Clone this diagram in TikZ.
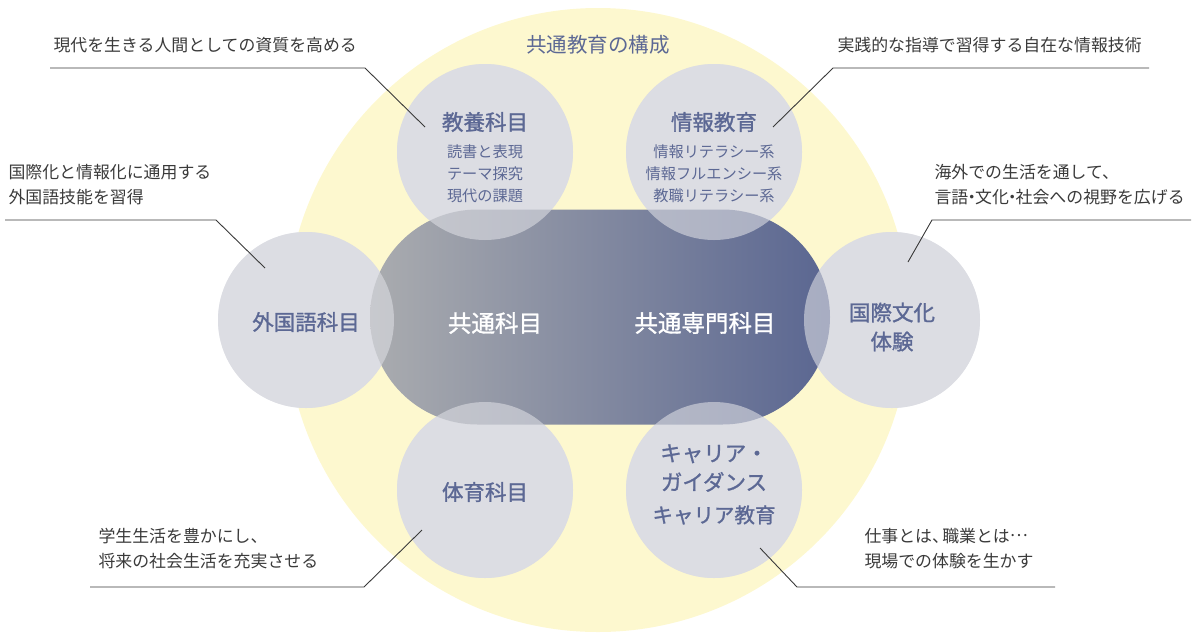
\documentclass[tikz,border=0pt]{standalone}
\usepackage{fontspec}
\setmainfont{Noto Sans CJK JP}
\newfontfamily\midweight[FakeBold=1.2]{Noto Sans CJK JP}
\usetikzlibrary{positioning}
\definecolor{pale}{HTML}{FDF8CF}
\definecolor{discgray}{HTML}{DCDDE3}
\definecolor{ink}{HTML}{5C6894}
\definecolor{lead}{HTML}{3A3A3A}
\definecolor{pillL}{HTML}{AAACAF}
\definecolor{pillR}{HTML}{5A6691}

\begin{document}
\begin{tikzpicture}[x=1pt,y=-1pt,
  disc/.style={circle,fill=discgray,minimum size=176pt,inner sep=0pt},
  head/.style={text=ink,align=center,font=\fontsize{21.5}{29}\midweight},
  sub/.style={text=ink,align=center,font=\fontsize{15.2}{22}\selectfont},
  note/.style={text=lead,align=left,font=\fontsize{16.9}{25}\selectfont},
  leader/.style={draw=lead,line width=0.9pt}]
  \useasboundingbox (0,0) rectangle (1200,641);
  % outer yellow disc
  \fill[pale] (598,320) circle[radius=312];
  \node[text=ink,font=\fontsize{20.5}{24}\selectfont] (title) at (598,45) {共通教育の構成};
  % the six subject discs
  \node[disc] (kyoyo) at (485,152) {};
  \node[disc] (joho) at (714,152) {};
  \node[disc] (gaikoku) at (306,320) {};
  \node[disc] (kokusai) at (892,320) {};
  \node[disc] (taiiku) at (485,490) {};
  \node[disc] (career) at (714,490) {};
  % common core
  \node[minimum width=460pt,minimum height=215pt,rounded corners=107.5pt,
        left color=pillL,right color=pillR,inner sep=0pt] (core) at (600,317) {};
  \foreach \c in {kyoyo,joho,gaikoku,kokusai,taiiku,career}
    \fill[discgray,opacity=.6] (\c.center) circle[radius=88];
  \node[text=white,font=\fontsize{23.5}{26}\midweight] (kyotsu) at (495,323) {共通科目};
  \node[text=white,font=\fontsize{23.5}{26}\midweight] (senmon) at (705,323) {共通専門科目};
  % disc texts
  \node[head] (kyoyoH) at (485,122) {教養科目};
  \node[sub] (kyoyoS) at (485,174) {読書と表現\\テーマ探究\\現代の課題};
  \node[head] (johoH) at (714,122) {情報教育};
  \node[sub] (johoS) at (714,174) {情報リテラシー系\\情報フルエンシー系\\教職リテラシー系};
  \node[head] (gaikokuH) at (306,322) {外国語科目};
  \node[head] (kokusaiH) at (892,327) {国際文化\\体験};
  \node[head] (taiikuH) at (485,492) {体育科目};
  \node[head] (careerG) at (714,468) {キャリア・\\ガイダンス};
  \node[head,font=\fontsize{20.5}{29}\midweight] (careerK) at (714,515) {キャリア教育};
  % notes
  \node[note,anchor=west] (n1) at (50,45) {現代を生きる人間としての資質を高める};
  \node[note,anchor=west] (n2) at (834,45) {実践的な指導で習得する自在な情報技術};
  \node[note,anchor=west] (n3) at (5,184.5) {国際化と情報化に通用する\\外国語技能を習得};
  \node[note,anchor=west] (n4) at (931,184.5) {海外での生活を通して、\\言語\kern-.3em・\kern-.3em文化\kern-.3em・\kern-.3em社会への視野を広げる};
  \node[note,anchor=west] (n5) at (95,548.5) {学生生活を豊かにし、\\将来の社会生活を充実させる};
  \node[note,anchor=west] (n6) at (861,548.5) {仕事とは、\kern-.4em職業とは\raisebox{.32em}{…}\\現場での体験を生かす};
  % leader lines
  \coordinate (l1a) at (50,68);   \coordinate (l1b) at (365,68);  \coordinate (l1c) at (425,127);
  \coordinate (l2a) at (1149,68); \coordinate (l2b) at (833,68);  \coordinate (l2c) at (773,127);
  \coordinate (l3a) at (5,220);   \coordinate (l3b) at (216,220); \coordinate (l3c) at (265,268);
  \coordinate (l4a) at (1191,220);\coordinate (l4b) at (932,220); \coordinate (l4c) at (908,262);
  \coordinate (l5a) at (90,587);  \coordinate (l5b) at (364,587); \coordinate (l5c) at (422,530);
  \coordinate (l6a) at (1055,587);\coordinate (l6b) at (797,587); \coordinate (l6c) at (760,548);
  \draw[leader] (l1a) -- (l1b) -- (l1c);
  \draw[leader] (l2a) -- (l2b) -- (l2c);
  \draw[leader] (l3a) -- (l3b) -- (l3c);
  \draw[leader] (l4a) -- (l4b) -- (l4c);
  \draw[leader] (l5a) -- (l5b) -- (l5c);
  \draw[leader] (l6a) -- (l6b) -- (l6c);
\end{tikzpicture}
\end{document}
